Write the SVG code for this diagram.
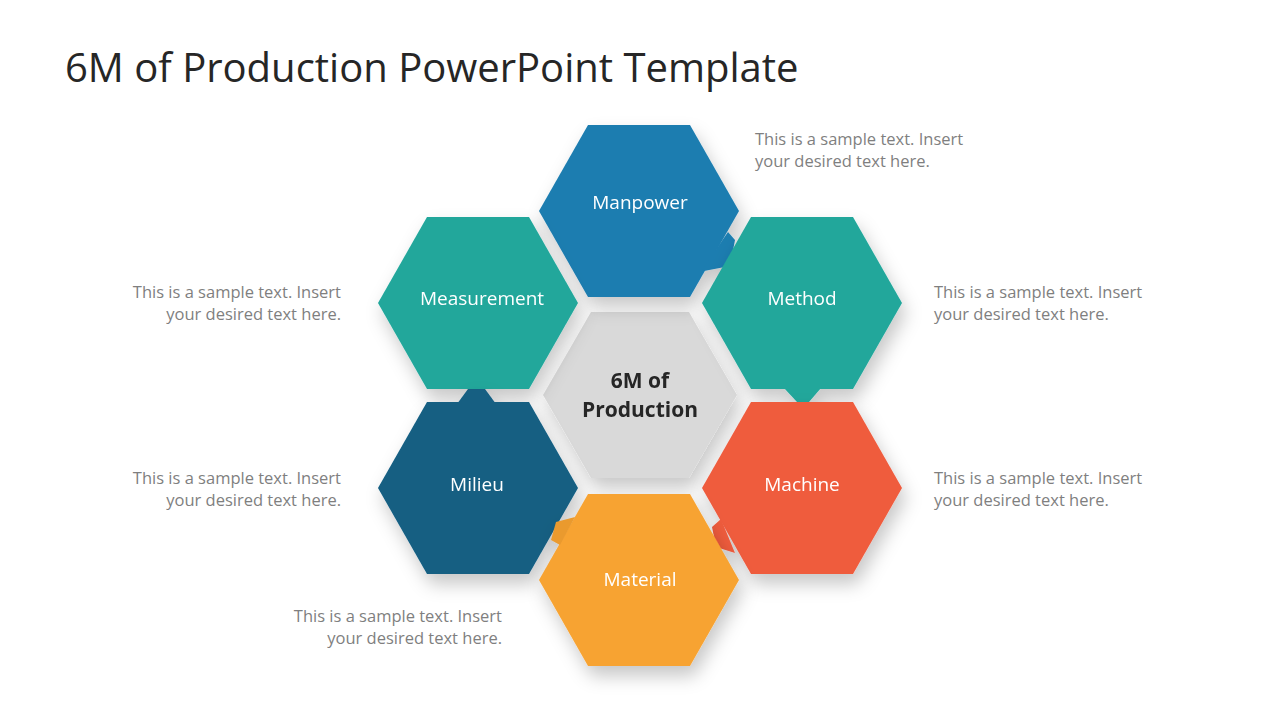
<svg xmlns="http://www.w3.org/2000/svg" width="1280" height="720" viewBox="0 0 1280 720">
<defs>
<filter id="sh" x="-30%" y="-30%" width="160%" height="170%"><feDropShadow dx="4" dy="10" stdDeviation="9" flood-color="#000" flood-opacity="0.22"/></filter>
<polygon id="hx" points="-100,0 -51,-86 51,-86 100,0 51,86 -51,86"/>
</defs>
<style>
.t{font-family:"Open Sans","Noto Sans",sans-serif;}
.lbl{font-family:"Open Sans","Noto Sans",sans-serif;font-size:19px;fill:#fff;text-anchor:middle;}
.d{font-family:"Open Sans","Noto Sans",sans-serif;font-size:16.5px;fill:#7f7f7f;}
</style>
<rect width="1280" height="720" fill="#fff"/>
<text class="t" x="65" y="82" font-size="40" fill="#262626">6M of Production PowerPoint Template</text>
<g id="center" filter="url(#sh)"><polygon points="543,395 591,312 689,312 737,395 689,478 591,478" fill="#d9d9d9"/>
<text class="t" x="640" y="388" font-size="21" font-weight="bold" fill="#262626" text-anchor="middle">6M of</text>
<text class="t" x="640" y="417" font-size="21" font-weight="bold" fill="#262626" text-anchor="middle">Production</text></g>
<g id="manpower" filter="url(#sh)"><use href="#hx" x="639" y="211" fill="#1b7db0"/><polygon points="728,232 735,240 730,266 704,271 702,270" fill="#1b7db0"/><text class="lbl" x="640" y="209">Manpower</text></g>
<g id="method" filter="url(#sh)"><use href="#hx" x="802" y="303" fill="#20a79b"/><polygon points="784,388 821,388 809,402 797,402" fill="#20a79b"/><text class="lbl" x="802" y="305">Method</text></g>
<g id="measurement" filter="url(#sh)"><use href="#hx" x="478" y="303" fill="#20a79b"/><text class="lbl" x="482" y="305">Measurement</text></g>
<g id="milieu" filter="url(#sh)"><use href="#hx" x="478" y="488" fill="#135e82"/><polygon points="457,404 496,404 485,389 468,389" fill="#135e82"/><text class="lbl" x="477" y="491">Milieu</text></g>
<g id="machine" filter="url(#sh)"><use href="#hx" x="802" y="488" fill="#ef5c3e"/><polygon points="721,519 712,527 716,547 735,553" fill="#ef5c3e"/><text class="lbl" x="802" y="491">Machine</text></g>
<g id="material" filter="url(#sh)"><use href="#hx" x="639" y="580" fill="#f7a333"/><polygon points="575,517 556,522 551,540 560,545" fill="#ea9a2e"/><text class="lbl" x="640" y="586">Material</text></g>
<g id="texts">
<text class="d" x="755" y="145">This is a sample text. Insert</text><text class="d" x="755" y="167">your desired text here.</text>
<text class="d" x="934" y="298">This is a sample text. Insert</text><text class="d" x="934" y="320">your desired text here.</text>
<text class="d" x="934" y="484">This is a sample text. Insert</text><text class="d" x="934" y="506">your desired text here.</text>
<text class="d" x="341" y="298" text-anchor="end">This is a sample text. Insert</text><text class="d" x="341" y="320" text-anchor="end">your desired text here.</text>
<text class="d" x="341" y="484" text-anchor="end">This is a sample text. Insert</text><text class="d" x="341" y="506" text-anchor="end">your desired text here.</text>
<text class="d" x="502" y="622" text-anchor="end">This is a sample text. Insert</text><text class="d" x="502" y="644" text-anchor="end">your desired text here.</text>
</g>
<g id="connectors"/>
</svg>
